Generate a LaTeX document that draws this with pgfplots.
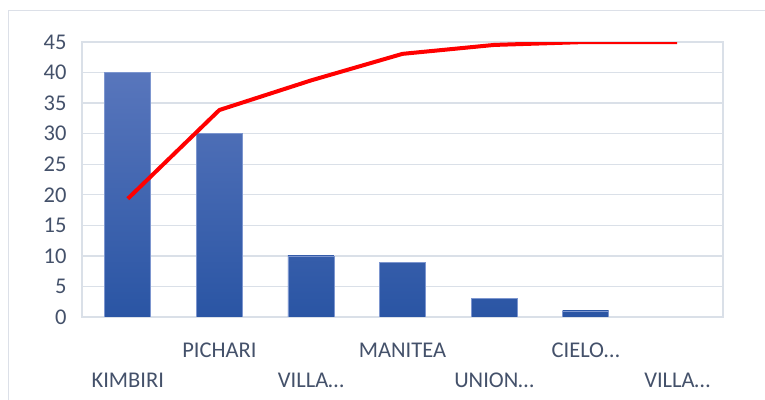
\documentclass[border=0pt]{standalone}
\usepackage{fontspec}
\setmainfont{Carlito}
\usepackage{pgfplots}
\pgfplotsset{compat=1.18}

\definecolor{barlight}{HTML}{5E7ABF}
\definecolor{bardark}{HTML}{2A55A4}
\definecolor{baredge}{HTML}{7D96CF}
\definecolor{gridc}{HTML}{DAE0E8}
\definecolor{labelc}{HTML}{44516A}
\definecolor{framec}{HTML}{DCE0E8}

% top colour of each bar = the shared vertical gradient cut at its height
\colorlet{top1}{barlight!89!bardark}
\colorlet{top2}{barlight!67!bardark}
\colorlet{top3}{barlight!22!bardark}
\colorlet{top4}{barlight!20!bardark}
\colorlet{top5}{barlight!7!bardark}
\colorlet{top6}{barlight!2!bardark}

\begin{document}
\begin{tikzpicture}
\path[use as bounding box] (0,0) rectangle (765bp,400bp);
\draw[framec, line width=1bp] (8bp,0) -- (8bp,389bp) -- (765bp,389bp);

\begin{axis}[
    at={(82bp,83bp)}, anchor=south west,
    scale only axis,
    width=641bp, height=275bp,
    xmin=-0.5, xmax=6.5,
    ymin=0, ymax=45,
    ytick={0,5,...,45},
    xtick={1,3,5},
    xticklabels={PICHARI,MANITEA,CIELO…},
    extra x ticks={0,2,4,6},
    extra x tick labels={KIMBIRI,VILLA…,UNION…,VILLA…},
    extra x tick style={xticklabel style={yshift=-30bp}},
    xticklabel style={anchor=base, yshift=-40bp},
    yticklabel style={xshift=-12bp},
    major tick length=0pt,
    tick label style={font=\fontsize{22.5bp}{27bp}\selectfont, text=labelc},
    /pgf/number format/assume math mode=true,
    ymajorgrids=true,
    grid style={gridc, line width=1.3bp},
    axis line style={gridc, line width=1.3bp},
    ybar, bar width=46bp, bar shift=0pt,
]
\addplot[draw=baredge, line width=0.6bp, bottom color=bardark, top color=top1] coordinates {(0,40)};
\addplot[draw=baredge, line width=0.6bp, bottom color=bardark, top color=top2] coordinates {(1,30)};
\addplot[draw=baredge, line width=0.6bp, bottom color=bardark, top color=top3] coordinates {(2,10)};
\addplot[draw=baredge, line width=0.6bp, bottom color=bardark, top color=top4] coordinates {(3,9)};
\addplot[draw=baredge, line width=0.6bp, bottom color=bardark, top color=top5] coordinates {(4,3)};
\addplot[draw=baredge, line width=0.6bp, bottom color=bardark, top color=top6] coordinates {(5,1)};

% cumulative percentage, drawn on a 0..100 scale mapped to 0..45
\addplot[sharp plot, red, line width=4bp, line join=round, mark=none] coordinates {
    (0,19.35) (1,33.87) (2,38.71) (3,43.06) (4,44.52) (5,45) (6,45)
};
\end{axis}
\end{tikzpicture}
\end{document}
